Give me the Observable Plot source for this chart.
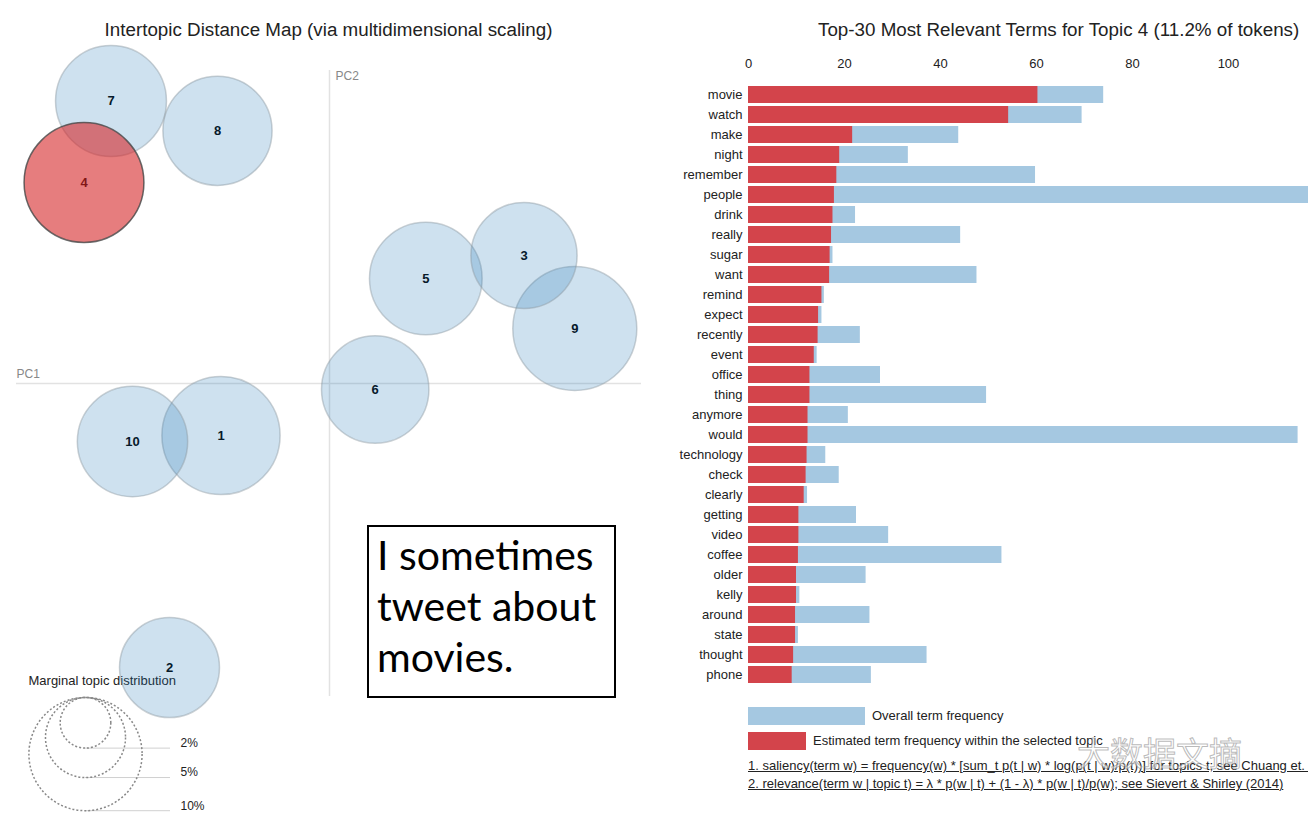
<!DOCTYPE html>
<html><head><meta charset="utf-8">
<script src="https://cdn.jsdelivr.net/npm/d3@7"></script>
<script src="https://cdn.jsdelivr.net/npm/@observablehq/plot@0.6"></script>
<style>
html,body{margin:0;padding:0;background:#fff;overflow:hidden;width:1308px;height:814px;font-family:"Liberation Sans",Arial,sans-serif;color:#222;}
#root{position:relative;width:1308px;height:814px;overflow:hidden;}
.abs{position:absolute;white-space:nowrap;}
.abs svg{overflow:visible;}
</style></head><body><div id="root"></div>
<script>
// ---- Left panel data: intertopic distance map ----
const topics   = ["1","2","3","4","5","6","7","8","9","10"];
const pc1      = [-0.1085,-0.160,0.1945,-0.2455,0.0963,0.0457,-0.2185,-0.112,0.2453,-0.197];
const pc2      = [-0.052,-0.284,0.128,0.201,0.105,-0.006,0.2825,0.2527,0.055,-0.058];
const topicPct = [10.9,7.8,8.8,11.2,9.9,9.0,9.6,9.3,12.0,9.5];
const selectedTopic = "4";
const legendPct = [2,5,10];

// ---- Right panel data: top-30 relevant terms for topic 4 ----
const terms = ["movie","watch","make","night","remember","people","drink","really","sugar","want",
  "remind","expect","recently","event","office","thing","anymore","would","technology","check",
  "clearly","getting","video","coffee","older","kelly","around","state","thought","phone"];
const overallFreq = [74.0,69.5,43.8,33.3,59.8,120,22.3,44.2,17.6,47.6,
  15.8,15.3,23.3,14.3,27.5,49.6,20.8,114.5,16.1,18.9,
  12.3,22.5,29.2,52.8,24.5,10.7,25.3,10.4,37.2,25.6];
const topicFreq = [60.3,54.2,21.7,19.0,18.4,17.9,17.6,17.3,17.0,16.9,
  15.3,14.6,14.5,13.7,12.8,12.8,12.4,12.4,12.2,12.0,
  11.6,10.5,10.5,10.4,10.0,10.0,9.8,9.8,9.4,9.1];
const xTicks = [0,20,40,60,80,100];

const root = document.getElementById("root");
function place(el, left, top){ const d=document.createElement("div"); d.className="abs"; d.style.left=left+"px"; d.style.top=top+"px"; d.appendChild(el); root.appendChild(d); return d; }
function textDiv(txt, left, top, css){ const d=document.createElement("div"); d.className="abs"; d.style.left=left+"px"; d.style.top=top+"px"; d.textContent=txt; Object.assign(d.style, css||{}); root.appendChild(d); return d; }

// ---------- Left plot ----------
const X_DOMAIN=[-0.313,0.312], Y_DOMAIN=[-0.313,0.313];
const R_DOMAIN=[0,11.2], R_RANGE=[0,59.9];
const L = {width:645, height:814, mt:70, mb:118, ml:16, mr:4};
const yS = Plot.scale({y:{domain:Y_DOMAIN, range:[L.height-L.mb, L.mt]}});
const rS = Plot.scale({r:{type:"sqrt", domain:R_DOMAIN, range:R_RANGE}});

const bubbles = topics.map((t,i)=>({topic:t, x:pc1[i], y:pc2[i], pct:topicPct[i]}));
const legendX = -0.244, legendTop = -0.314, legendLineEnd = -0.159, legendLabelX = -0.149;
const legend = legendPct.map(p=>{
  const topPx = yS.apply(legendTop), r = rS.apply(p);
  return {p, cy: yS.invert(topPx + r), bottom: yS.invert(topPx + 2*r)};
});

const left = Plot.plot({
  width:L.width, height:L.height, marginTop:L.mt, marginBottom:L.mb, marginLeft:L.ml, marginRight:L.mr,
  x:{domain:X_DOMAIN, axis:null}, y:{domain:Y_DOMAIN, axis:null},
  r:{type:"sqrt", domain:R_DOMAIN, range:R_RANGE},
  style:{fontFamily:"'Liberation Sans', Arial, sans-serif", fontSize:"12px", background:"transparent", overflow:"visible"},
  marks:[
    Plot.ruleY([0], {stroke:"#e2e2e2", strokeWidth:1.5}),
    Plot.ruleX([0], {stroke:"#e2e2e2", strokeWidth:1.5}),
    Plot.text(["PC1"], {frameAnchor:"left", y:[0], dy:-9, textAnchor:"start", fill:"#888", fontSize:12}),
    Plot.text(["PC2"], {frameAnchor:"top", x:[0], dx:6, dy:1, textAnchor:"start", fill:"#888", fontSize:12}),
    Plot.text(bubbles, {x:"x", y:"y", text:"topic", fill:"#000", fontWeight:"bold", fontSize:13}),
    Plot.text(["Marginal topic distribution"], {x:[-0.301], y:[-0.297], textAnchor:"start", fill:"#222", fontSize:13}),
    Plot.dot(bubbles.filter(d=>d.topic!==selectedTopic), {x:"x", y:"y", r:"pct", fill:"#1f77b4", fillOpacity:0.22, stroke:"#8a96a0", strokeOpacity:0.45, strokeWidth:1.5}),
    Plot.dot(bubbles.filter(d=>d.topic===selectedTopic), {x:"x", y:"y", r:"pct", fill:"#d62728", fillOpacity:0.6, stroke:"#444", strokeOpacity:0.8, strokeWidth:1.5}),
    Plot.ruleY(legend, {y:"bottom", x1:legendX, x2:legendLineEnd, stroke:"#d0d0d0"}),
    Plot.dot(legend, {x:legendX, y:"cy", r:"p", fill:"none", stroke:"#888", strokeDasharray:"2,2", strokeWidth:1.5}),
    Plot.text(legend, {x:legendLabelX, y:"bottom", text:d=>d.p+"%", textAnchor:"start", dy:-5, fill:"#222", fontSize:12})
  ]
});
place(left, 0, 0);

// ---------- Right plot ----------
const rows = terms.map((t,i)=>({term:t, overall:overallFreq[i], topic:topicFreq[i]}));
const R = {width:663, height:814, mt:82.5, mb:128.5, ml:103, mr:0};
const right = Plot.plot({
  width:R.width, height:R.height, marginTop:R.mt, marginBottom:R.mb, marginLeft:R.ml, marginRight:R.mr,
  x:{domain:[0,116.67], axis:null, label:null},
  y:{domain:terms, padding:0.15, axis:null, label:null},
  style:{fontFamily:"'Liberation Sans', Arial, sans-serif", fontSize:"13px", color:"#222", background:"transparent"},
  marks:[
    Plot.barX(rows, {x:"overall", y:"term", fill:"#a5c8e1", clip:true}),
    Plot.barX(rows, {x:"topic", y:"term", fill:"#d3444b"}),
    Plot.axisX({anchor:"top", ticks:xTicks, tickSize:0, tickPadding:15, label:null}),
    Plot.axisY({anchor:"left", tickSize:0, tickPadding:6, label:null})
  ]
});
place(right, 645, 0);

// ---------- Titles ----------
textDiv("Intertopic Distance Map (via multidimensional scaling)", 0, 19, {width:"657px", textAlign:"center", fontSize:"18.8px"});
textDiv("Top-30 Most Relevant Terms for Topic 4 (11.2% of tokens)", 818, 19, {fontSize:"18.8px"});

// ---------- Text box ----------
const box = textDiv("", 367, 525, {width:"249px", height:"173px", boxSizing:"border-box", border:"2px solid #000", background:"#fff",
  fontFamily:"Lato, 'Open Sans', sans-serif", fontSize:"41px", lineHeight:"51px", padding:"2px 0 0 8px", color:"#000", whiteSpace:"normal"});
box.innerHTML = "I sometimes<br>tweet about<br>movies.";

// ---------- Bar legend & footnotes ----------
textDiv("", 748, 707, {width:"117px", height:"18px", background:"#a5c8e1"});
textDiv("Overall term frequency", 872, 708, {fontSize:"13px"});
textDiv("", 748, 732, {width:"58px", height:"18px", background:"#d3444b"});
textDiv("Estimated term frequency within the selected topic", 813, 733, {fontSize:"13px"});
textDiv("1. saliency(term w) = frequency(w) * [sum_t p(t | w) * log(p(t | w)/p(t))] for topics t; see Chuang et. al (2012)", 748, 758, {fontSize:"13px", textDecoration:"underline"});
textDiv("2. relevance(term w | topic t) = λ * p(w | t) + (1 - λ) * p(w | t)/p(w); see Sievert & Shirley (2014)", 748, 776, {fontSize:"13px", textDecoration:"underline"});

// ---------- Watermark ----------
textDiv("大数据文摘", 1077, 728, {fontFamily:"'Noto Sans CJK SC', sans-serif", fontSize:"33px", color:"rgba(255,255,255,0.55)", webkitTextStroke:"1px rgba(140,140,140,0.6)"});
</script></body></html>
